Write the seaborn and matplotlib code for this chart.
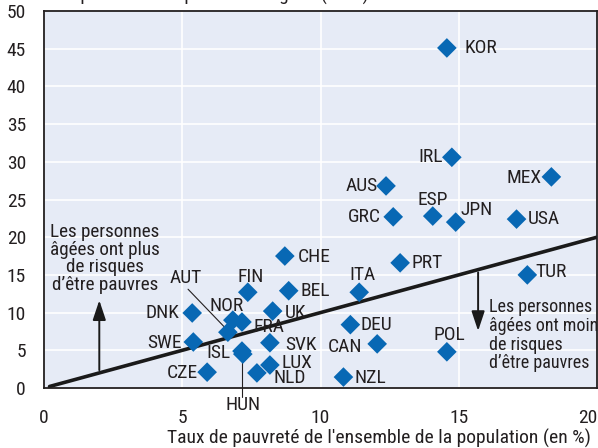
import matplotlib
matplotlib.use("Agg")
import matplotlib.pyplot as plt
import seaborn as sns
import pandas as pd
from matplotlib import font_manager

# ---- data ----
countries = ["KOR", "IRL", "AUS", "MEX", "ESP", "GRC", "JPN", "USA", "CHE", "PRT",
             "TUR", "ITA", "BEL", "FIN", "UK", "DNK", "NOR", "FRA", "AUT", "SWE",
             "ISL", "HUN", "SVK", "LUX", "NLD", "CZE", "DEU", "CAN", "NZL", "POL"]
pop_poverty = [14.57, 14.75, 12.37, 18.35, 14.06, 12.63, 14.89, 17.09, 8.71, 12.88,
               17.48, 11.40, 8.85, 7.37, 8.27, 5.36, 6.83, 7.16, 6.65, 5.40,
               7.16, 7.19, 8.17, 8.17, 7.70, 5.90, 11.08, 12.05, 10.83, 14.57]
old_poverty = [45.1, 30.6, 26.8, 28.0, 22.8, 22.7, 22.0, 22.4, 17.5, 16.6,
               15.0, 12.7, 12.9, 12.7, 10.2, 9.95, 9.0, 8.75, 7.4, 6.1,
               4.9, 4.5, 6.0, 3.05, 2.0, 2.1, 8.4, 5.85, 1.45, 4.8]
x_ticks = [0, 5, 10, 15, 20]
y_ticks = [0, 5, 10, 15, 20, 25, 30, 35, 40, 45, 50]
x_title = "Taux de pauvreté de l'ensemble de la population (en %)"
y_title = "Taux de pauvreté des personnes âgées (en %)"
note_up = "Les personnes\nâgées ont plus\nde risques\nd’être pauvres"
note_down = "Les personnes\nâgées ont moins\nde risques\nd’être pauvres"

# ---- label placement (offset pixels, alignment) ----
label_pos = {
    "KOR": (18, 0, "left"), "IRL": (-9, 0, "right"), "AUS": (-8, 0, "right"),
    "MEX": (-10, -1, "right"), "ESP": (0, 16, "center"), "GRC": (-12, 0, "right"),
    "JPN": (5, 12, "left"), "USA": (11, 0, "left"), "CHE": (13, -1, "left"),
    "PRT": (11, 0, "left"), "TUR": (8, 3, "left"), "ITA": (3, 17, "center"),
    "BEL": (12, 0, "left"), "FIN": (3, 15, "center"), "UK": (12, -2, "left"),
    "DNK": (-13, 0, "right"), "NOR": (-6, 14, "center"), "FRA": (12, -5, "left"),
    "AUT": (-42, 54, "center"), "SWE": (-12, -1, "right"), "ISL": (-11, -2, "right"),
    "HUN": (0, -51, "center"), "SVK": (15, -2, "left"), "LUX": (12, 2, "left"),
    "NLD": (17, -5, "left"), "CZE": (-9, -1, "right"), "DEU": (10, 0, "left"),
    "CAN": (-15, -3, "right"), "NZL": (11, -1, "left"), "POL": (3, 17, "center"),
}

df = pd.DataFrame({"country": countries, "pop": pop_poverty, "old": old_poverty})

sns.set_style("white")
names = {f.name for f in font_manager.fontManager.ttflist}
fams = [f for f in ["Roboto Condensed", "Archivo Narrow", "PT Sans Narrow"] if f in names]
plt.rcParams["font.family"] = fams[:1] + ["DejaVu Sans"]

fig = plt.figure(figsize=(5.98, 4.48), dpi=100)
ax = fig.add_axes([44 / 598, 60 / 448, 553 / 598, 377 / 448])
ax.set_facecolor("#E6EBF6")
ax.set_axisbelow(True)

ax.plot([0.2, 20], [0.2, 20], color="#1a1a1a", lw=2.6, zorder=2)

sns.scatterplot(data=df, x="pop", y="old", marker="D", s=100, color="#0868B4",
                edgecolor="none", ax=ax, zorder=3, legend=False)

ax.set_xlim(0, 19.9)
ax.set_ylim(0, 50)
ax.set_xticks(x_ticks)
ax.set_yticks(y_ticks)
ax.grid(True, color="white", lw=1.2)
for s in ax.spines.values():
    s.set_color("#231F20")
    s.set_linewidth(1.3)
ax.tick_params(axis="both", direction="in", length=5, color="#555555",
               labelsize=14, labelcolor="#231F20")
ax.tick_params(axis="y", pad=13)
ax.tick_params(axis="x", pad=15)
ax.set_xlabel("")
ax.set_ylabel("")
xl = ax.get_xticklabels()
xl[-1].set_horizontalalignment("right")
xl[-1].set_x(19.95)

for c, xv, yv in zip(countries, pop_poverty, old_poverty):
    dx, dy, ha = label_pos[c]
    ax.annotate(c, (xv, yv), xytext=(dx, dy), textcoords="offset pixels",
                ha=ha, va="center", fontsize=14, color="#231F20", zorder=4)

# leader lines
ax.plot([5.21, 6.6], [13.1, 7.8], color="#231F20", lw=0.8, zorder=2)
ax.plot([7.17, 7.17], [4.6, -1.2], color="#231F20", lw=0.8, zorder=2, clip_on=False)

# arrows
ax.annotate("", xy=(2.0, 12.0), xytext=(2.0, 2.0),
            arrowprops=dict(arrowstyle="-|>,head_length=1.2,head_width=0.4",
                            color="#1a1a1a", lw=1.4))
ax.annotate("", xy=(15.7, 7.2), xytext=(15.7, 15.7),
            arrowprops=dict(arrowstyle="-|>,head_length=1.2,head_width=0.4",
                            color="#1a1a1a", lw=1.4))

ax.text(2.2, 21.9, note_up, ha="center", va="top", fontsize=13.8,
        color="#231F20", linespacing=0.98, zorder=4)
ax.text(16.1, 11.9, note_down, ha="left", va="top", fontsize=13,
        color="#231F20", linespacing=1.05, zorder=4)

fig.text(591 / 598, 10 / 448, x_title, ha="right", va="center",
         fontsize=14, color="#231F20")
fig.text(15 / 598, 1.0 - 1 / 448, y_title, ha="left", va="baseline",
         fontsize=14, color="#231F20")

fig.savefig("out.png", dpi=100)
